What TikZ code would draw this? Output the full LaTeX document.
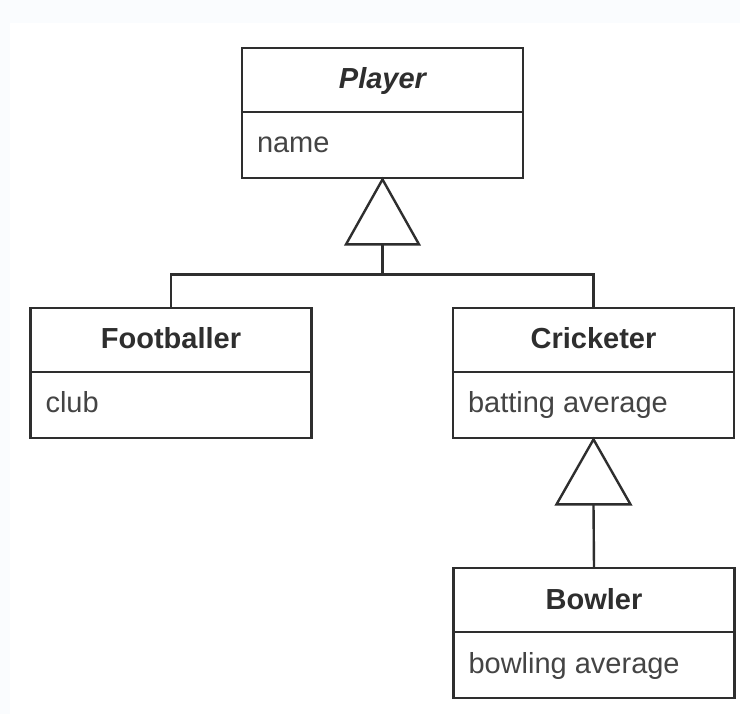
\documentclass[tikz,border=0pt]{standalone}
\usepackage{fontspec}
\setmainfont{Liberation Sans}
\usetikzlibrary{calc}
\definecolor{pagebg}{HTML}{FAFCFE}
\definecolor{ink}{HTML}{2E2E2E}
\definecolor{attrink}{HTML}{444444}
\tikzset{
  classbox/.style={draw=ink, line width=2.4pt, fill=white, inner sep=0pt,
    minimum width=281pt, minimum height=130pt, anchor=north},
  classtitle/.style={anchor=base, inner sep=0pt, text=ink,
    font=\fontsize{29}{34}\selectfont\bfseries},
  classattr/.style={anchor=base west, inner sep=0pt, text=attrink,
    font=\fontsize{29}{34}\selectfont},
  divider/.style={draw=ink, line width=2.4pt},
  link/.style={draw=ink, line width=2.4pt},
  genhead/.style={draw=ink, line width=2.4pt, fill=white, line join=miter}
}
% one UML class: name, centre x, top y, title, attribute
\newcommand{\umlclass}[5]{%
  \node[classbox] (#1) at (#2,#3) {};
  \draw[divider] ($(#1.north west)+(0,65)$) -- ($(#1.north east)+(0,65)$);
  \node[classtitle] (#1-title) at ($(#1.north)+(0,42)$) {#4};
  \node[classattr] (#1-attr) at ($(#1.north west)+(16,106)$) {#5};
}
\begin{document}
\begin{tikzpicture}[x=1pt, y=-1pt]
  \useasboundingbox (0,0) rectangle (740,714);
  \fill[pagebg] (0,0) rectangle (740,714);
  \fill[white] (10,23) rectangle (740,714);

  \umlclass{player}{382.5}{47}{\itshape Player}{name}
  \umlclass{footballer}{171}{307}{Footballer}{club}
  \umlclass{cricketer}{593.5}{307}{Cricketer}{batting average}
  \umlclass{bowler}{594}{567}{Bowler}{bowling average}

  % generalisation: Footballer and Cricketer -> Player
  \coordinate (gen1) at ($(player.south)+(0,65)$);
  \coordinate (bus) at ($(gen1)+(0,30)$);
  \draw[link] (gen1) -- (bus);
  \draw[link] (footballer.north) |- (bus) -| (cricketer.north);
  \draw[genhead] (player.south) -- ($(gen1)+(-36.5,0)$) -- ($(gen1)+(36.5,0)$) -- cycle;

  % generalisation: Bowler -> Cricketer
  \coordinate (gen2) at ($(cricketer.south)+(0,65)$);
  \draw[link] (bowler.north) -- (gen2);
  \draw[genhead] (cricketer.south) -- ($(gen2)+(-37,0)$) -- ($(gen2)+(37,0)$) -- cycle;
\end{tikzpicture}
\end{document}
